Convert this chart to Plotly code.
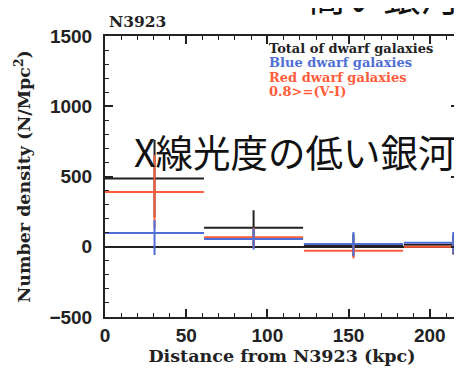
import plotly.graph_objects as go

# --- data ---
bin_centers = [30.5, 91.5, 153.0, 214.5]
bin_halfwidth = [30.5, 30.5, 30.5, 30.5]

total_vals = [485, 135, 10, 15]
total_err = [275, 125, 80, 70]

red_vals = [390, 67, -28, 0]
red_err = [262, 70, 55, 47]

blue_vals = [98, 55, 20, 29]
blue_err_plus = [92, 75, 85, 76]
blue_err_minus = [157, 75, 85, 76]

x_ticks = [0, 50, 100, 150, 200]
y_ticks = [-500, 0, 500, 1000, 1500]

legend_lines = ["Total of dwarf galaxies", "Blue dwarf galaxies",
                "Red dwarf galaxies", "0.8>=(V-I)"]

BLACK = "#222222"
BLUE = "#4f6fd6"
RED = "#ff5c3a"

fig = go.Figure()

def add_series(vals, ep, em, color, name):
    fig.add_trace(go.Scatter(
        x=bin_centers, y=vals, mode="markers", name=name,
        marker=dict(size=1, color=color, opacity=0),
        error_x=dict(type="data", array=bin_halfwidth, symmetric=True,
                     color=color, thickness=2, width=0),
        error_y=dict(type="data", array=ep, arrayminus=em, symmetric=False,
                     color=color, thickness=2, width=0),
        showlegend=False, hoverinfo="skip"))

add_series(total_vals, total_err, total_err, BLACK, "Total")
add_series(red_vals, red_err, red_err, RED, "Red")
add_series(blue_vals, blue_err_plus, blue_err_minus, BLUE, "Blue")

serif = "DejaVu Serif"
sans = "Liberation Sans"

axis_common = dict(
    showline=True, linecolor=BLACK, linewidth=2, mirror="ticks",
    ticks="inside", ticklen=8, tickwidth=1.5, tickcolor=BLACK,
    showgrid=False, automargin=False,
    tickfont=dict(family=sans, size=19, color=BLACK, weight="bold"),
)

fig.update_xaxes(
    range=[0, 218], tickvals=x_ticks, ticktext=[str(v) for v in x_ticks],
    minor=dict(ticks="inside", ticklen=4, tickwidth=1.2, tickcolor=BLACK, dtick=10, tick0=0),
    zeroline=False,
    title=dict(text="Distance from N3923 (kpc)", standoff=3,
               font=dict(family=serif, size=17.5, color=BLACK, weight="bold")),
    **axis_common)

fig.update_yaxes(
    range=[-500, 1500], tickvals=y_ticks, ticktext=["\u2212500", "0", "500", "1000", "1500"],
    minor=dict(ticks="inside", ticklen=4, tickwidth=1.2, tickcolor=BLACK, dtick=100, tick0=0),
    zeroline=True, zerolinecolor=BLACK, zerolinewidth=1.5,
    ticklabelstandoff=7,
    title=dict(text="Number density (N/Mpc<sup>2</sup>)", standoff=14,
               font=dict(family=serif, size=17.5, color=BLACK, weight="bold")),
    **axis_common)

annos = []
leg_colors = [BLACK, BLUE, RED, RED]
leg_y = [0.954, 0.904, 0.851, 0.801]
for txt, c, yy in zip(legend_lines, leg_colors, leg_y):
    annos.append(dict(text=txt, x=0.458, y=yy, xref="paper", yref="paper",
                      xanchor="left", yanchor="middle", showarrow=False,
                      font=dict(family=serif, size=13, color=c, weight="bold")))

annos.append(dict(text="N3923", x=0.006, y=1.05, xref="paper", yref="paper",
                  xanchor="left", yanchor="middle", showarrow=False,
                  font=dict(family=serif, size=15.5, color=BLACK, weight="bold")))

annos.append(dict(text="X線光度の低い銀河", x=0.997, y=0.594, xref="paper", yref="paper",
                  xanchor="right", yanchor="middle", showarrow=False,
                  font=dict(family="Noto Sans CJK JP", size=37.5, color="#111111")))

annos.append(dict(text="高い銀河", x=1.003, y=1.146, xref="paper", yref="paper",
                  xanchor="right", yanchor="middle", showarrow=False,
                  font=dict(family="Noto Sans CJK JP", size=37.5, color="#111111")))

# the page body has an 8px default margin, so the figure is sized to end at 462x375
fig.update_layout(
    width=454, height=367,
    margin=dict(l=97, r=3, t=28, b=58, autoexpand=False),
    plot_bgcolor="white", paper_bgcolor="white",
    annotations=annos,
)

fig.write_html("out.html")
